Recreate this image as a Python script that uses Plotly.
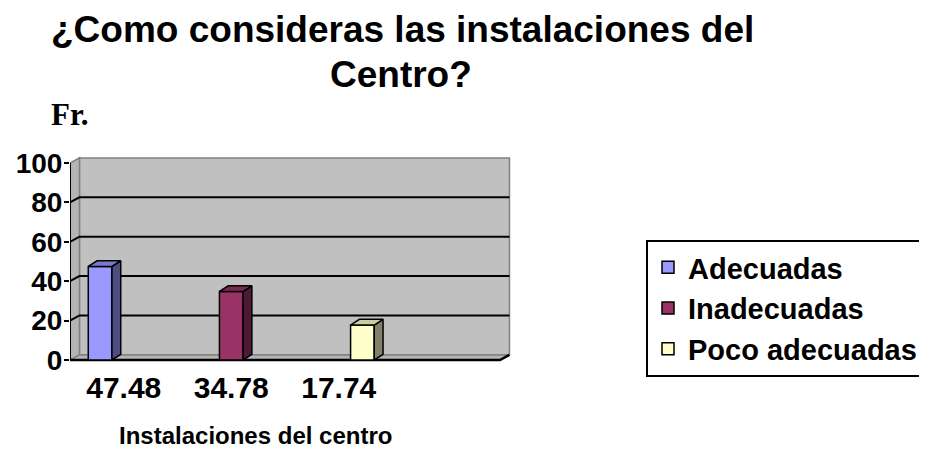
import plotly.graph_objects as go

# ---- data ----
categories = ["47.48", "34.78", "17.74"]
series = ["Adecuadas", "Inadecuadas", "Poco adecuadas"]
values = [47.48, 34.78, 17.74]
y_ticks = [0, 20, 40, 60, 80, 100]
title_lines = ["¿Como consideras las instalaciones del", "Centro?"]

# ---- styles ----
front_colors = ["#9999FF", "#993366", "#FFFFCC"]
side_colors = ["#4D4D80", "#4D1A33", "#80806A"]
top_colors = ["#7A7ACC", "#7A2952", "#CCCCA3"]
FONT = "Liberation Sans, Arial, sans-serif"

SLOT = 0.22            # bar width (category units)
DX, DY = 0.088, 2.6    # wall depth offset
BDX, BDY = 0.082, 2.9  # bar depth offset

# page body margin of the html page (browser default)
OX, OY = 8, 8
W, H = 927 - OX, 459 - OY
# plot area in figure pixels
L, R, T, B = 62, 505, 142, 354


def px(x_ref):
    return (x_ref - OX - L) / (R - L)


def py(y_ref):
    return (B - (y_ref - OY)) / (B - T)


fig = go.Figure()
n = len(series)
for k, (name, v) in enumerate(zip(series, values)):
    off = (k - (n - 1) / 2) * SLOT - SLOT / 2
    fig.add_trace(go.Bar(
        x=[k], y=[v], width=SLOT, offset=off, name=name,
        marker=dict(color=front_colors[k], line=dict(color="black", width=1.5)),
        hoverinfo="skip",
    ))

for k, v in enumerate(values):
    off = (k - (n - 1) / 2) * SLOT - SLOT / 2
    xl = k + off
    xr = xl + SLOT
    fig.add_trace(go.Scatter(
        x=[xr, xr, xr + BDX, xr + BDX, xr], y=[0, v, v + BDY, BDY, 0],
        mode="lines", fill="toself", fillcolor=side_colors[k],
        line=dict(color="black", width=1.5), showlegend=False, hoverinfo="skip",
    ))
    fig.add_trace(go.Scatter(
        x=[xl, xr, xr + BDX, xl + BDX, xl], y=[v, v, v + BDY, v + BDY, v],
        mode="lines", fill="toself", fillcolor=top_colors[k],
        line=dict(color="black", width=1.5), showlegend=False, hoverinfo="skip",
    ))

x0, x1 = -0.5, len(categories) + 0.5
shapes = [
    # back wall
    dict(type="rect", x0=x0 + DX, x1=x1 + DX, y0=DY, y1=100 + DY,
         fillcolor="#C0C0C0", line=dict(color="#808080", width=1.5), layer="below"),
    # left wall
    dict(type="path",
         path=f"M {x0},0 L {x0},100 L {x0 + DX},{100 + DY} L {x0 + DX},{DY} Z",
         fillcolor="#B4B4B4", line=dict(color="#808080", width=1.5), layer="below"),
    # floor
    dict(type="path",
         path=f"M {x0},0 L {x1},0 L {x1 + DX},{DY} L {x0 + DX},{DY} Z",
         fillcolor="#B4B4B4", line=dict(color="#808080", width=1.5), layer="below"),
]
for v in y_ticks[1:-1]:
    shapes.append(dict(type="path",
                       path=f"M {x0},{v} L {x0 + DX},{v + DY} L {x1 + DX},{v + DY}",
                       line=dict(color="black", width=2), layer="below"))
# floor front edge and left axis line
shapes.append(dict(type="path", path=f"M {x0},0 L {x1},0 L {x1 + DX},{DY}",
                   line=dict(color="black", width=2.5), layer="below"))
shapes.append(dict(type="line", x0=x0, x1=x0, y0=0, y1=100,
                   line=dict(color="black", width=2), layer="below"))

xr_right = x0 + (R - L) / 107.5
yunit = 197 / 100.0
zero_px = 352  # figure pixel of value 0

title_font = dict(family=FONT, size=37, weight="bold", color="black")
annotations = [
    dict(text=title_lines[0], x=px(402), y=py(29), xref="paper", yref="paper",
         xanchor="center", yanchor="middle", showarrow=False, font=title_font),
    dict(text=title_lines[1], x=px(401), y=py(74), xref="paper", yref="paper",
         xanchor="center", yanchor="middle", showarrow=False, font=title_font),
    dict(text="Fr.", x=px(49), y=py(114), xref="paper", yref="paper",
         xanchor="left", yanchor="middle", showarrow=False,
         font=dict(family="Liberation Serif, Times New Roman, serif", size=31,
                   weight="bold", color="black")),
    dict(text="Instalaciones del centro", x=px(255), y=py(435),
         xref="paper", yref="paper", xanchor="center", yanchor="middle",
         showarrow=False,
         font=dict(family=FONT, size=24, weight="bold", color="black")),
]

fig.update_layout(
    width=W, height=H,
    margin=dict(l=L, r=W - R, t=T, b=H - B, autoexpand=False),
    paper_bgcolor="white", plot_bgcolor="white",
    barmode="overlay",
    showlegend=True,
    font=dict(family=FONT, color="black"),
    xaxis=dict(
        range=[x0, xr_right], tickvals=list(range(len(categories))),
        ticktext=categories, showgrid=False, zeroline=False, showline=False,
        ticks="", tickfont=dict(family=FONT, size=30, weight="bold"),
        ticklabelstandoff=5, fixedrange=True,
    ),
    yaxis=dict(
        range=[-(B - zero_px) / yunit, (zero_px - T) / yunit],
        tickvals=y_ticks, ticks="outside", ticklen=5, tickwidth=1.5,
        tickcolor="black", showgrid=False, zeroline=False, showline=False,
        tickfont=dict(family=FONT, size=28, weight="bold"),
        ticklabelstandoff=-4, fixedrange=True,
    ),
    legend=dict(
        x=px(646), y=py(240), xanchor="left", yanchor="top",
        xref="paper", yref="paper",
        font=dict(family=FONT, size=29, weight="bold", color="black"),
        bordercolor="black", borderwidth=2, bgcolor="white",
    ),
    shapes=shapes,
    annotations=annotations,
)

fig.write_html("out.html")
